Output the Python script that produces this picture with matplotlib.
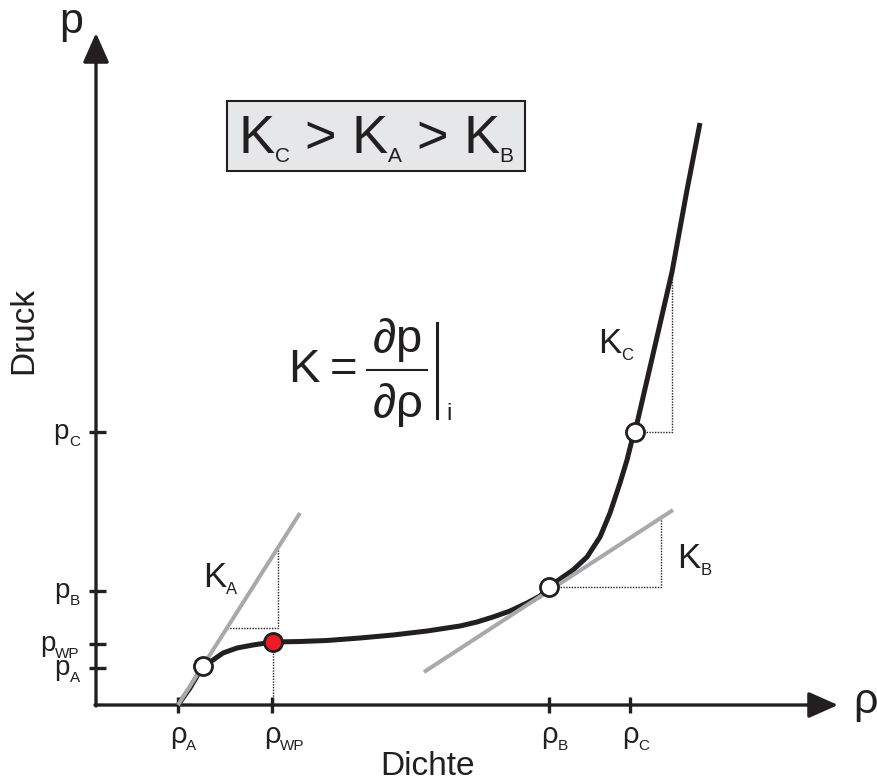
import matplotlib
matplotlib.use('Agg')
import matplotlib.pyplot as plt
from matplotlib.patches import Rectangle
from matplotlib.textpath import TextToPath
from matplotlib.font_manager import FontProperties

FONT = 'Liberation Sans'
INK = '#231f20'
GREY = '#a7a9ac'

plt.rcParams['font.family'] = FONT
plt.rcParams['mathtext.fontset'] = 'custom'
plt.rcParams['mathtext.rm'] = FONT
plt.rcParams['mathtext.it'] = FONT + ':italic'
plt.rcParams['mathtext.sf'] = FONT

# marked densities / pressures on the axes (arbitrary units)
rho_ticks = [0.82, 1.76, 4.53, 5.34]
rho_subs = ['A', 'WP', 'B', 'C']
p_ticks = [0.37, 0.61, 1.14, 2.73]
p_subs = ['A', 'WP', 'B', 'C']

# equation of state p(rho)
curve_rho = [0.82, 0.94, 1.07, 1.17, 1.27, 1.41, 1.57, 1.77, 2.04, 2.31, 2.64,
             2.97, 3.31, 3.64, 3.81, 3.97, 4.14, 4.31, 4.44, 4.53, 4.64, 4.77,
             4.91, 5.04, 5.14, 5.24, 5.31, 5.36, 5.39, 5.58, 5.76, 5.91, 6.04]
curve_p = [0.00, 0.17, 0.39, 0.45, 0.52, 0.57, 0.60, 0.63, 0.635, 0.645, 0.67,
           0.70, 0.74, 0.79, 0.83, 0.88, 0.94, 1.02, 1.09, 1.18, 1.26, 1.35,
           1.48, 1.68, 1.92, 2.22, 2.45, 2.65, 2.73, 3.55, 4.33, 5.15, 5.82]

# states A, B, C and the inflection point WP
state_rho = [1.07, 4.53, 5.39]
state_p = [0.39, 1.18, 2.73]
wp_rho = 1.77
wp_p = 0.63

# tangents at A and B
tanA_rho = [0.82, 2.04]
tanA_p = [0.00, 1.92]
tanB_rho = [3.28, 5.77]
tanB_p = [0.33, 1.95]

# slope triangles
triA_rho = [1.31, 1.82, 1.82]
triA_p = [0.77, 0.77, 1.57]
triB_rho = [4.53, 5.65, 5.65]
triB_p = [1.18, 1.18, 1.86]
triC_rho = [5.39, 5.76, 5.76]
triC_p = [2.73, 2.73, 4.33]

t2p = TextToPath()


def text_width(s, size):
    w, h, d = t2p.get_text_width_height_descent(
        s, FontProperties(family=FONT, size=size), ismath=False)
    return w


def runs(ax, x, y, parts, align='left', dy=0):
    # parts: (text, fontsize, drop below baseline in pt)
    widths = [text_width(s, sz) for s, sz, _ in parts]
    total = sum(widths)
    if align == 'left':
        x0 = 0
    elif align == 'right':
        x0 = -total
    elif align == 'first':
        x0 = -widths[0] / 2
    else:
        x0 = -total / 2
    for (s, sz, drop), w in zip(parts, widths):
        ax.annotate(s, (x, y), xytext=(x0, dy - drop), textcoords='offset points',
                    ha='left', va='baseline', fontsize=sz, color=INK)
        x0 += w


fig = plt.figure(figsize=(8.78, 7.82), dpi=100)
ax = fig.add_axes([0, 0, 1, 1])
ax.set_xlim(-0.96, 7.82)
ax.set_ylim(-0.77, 7.05)
ax.axis('off')

# axes with arrow heads
arrow = dict(arrowstyle='-|>,head_length=0.9,head_width=0.4', mutation_scale=20,
             lw=2.4, color=INK, shrinkA=0, shrinkB=0)
ax.annotate('', xy=(7.42, 0), xytext=(-0.01, 0), arrowprops=arrow)
ax.annotate('', xy=(0, 6.72), xytext=(0, -0.01), arrowprops=arrow)
ax.vlines(rho_ticks, -0.08, 0.08, color=INK, lw=2.4)
ax.hlines(p_ticks, -0.07, 0.10, color=INK, lw=2.4)

for r, s in zip(rho_ticks, rho_subs):
    runs(ax, r, -0.38, [('ρ', 21, 0), (s, 11, 5)], align='first')
for p, s in zip(p_ticks, p_subs):
    runs(ax, -0.16, p, [('p', 20, 0), (s, 11, 5)], align='right', dy=-5)

ax.text(-0.25, 6.72, 'p', fontsize=31, color=INK, ha='center', va='baseline')
ax.text(7.70, -0.08, 'ρ', fontsize=31, color=INK, ha='center', va='baseline')
ax.text(3.32, -0.70, 'Dichte', fontsize=24, color=INK, ha='center', va='baseline')
ax.text(-0.72, 3.75, 'Druck', fontsize=24, color=INK, ha='center', va='center',
        rotation=90)

# slope triangles and WP projection
dots = dict(color=INK, lw=1.0, ls=(0, (1, 1)), zorder=1)
ax.plot(triA_rho, triA_p, **dots)
ax.plot(triB_rho, triB_p, **dots)
ax.plot(triC_rho, triC_p, **dots)
ax.plot([wp_rho, wp_rho], [wp_p, 0], **dots)

ax.plot(curve_rho, curve_p, color=INK, lw=3.6, solid_capstyle='butt',
        solid_joinstyle='round', zorder=2)
ax.plot(tanA_rho, tanA_p, color=GREY, lw=2.9, solid_capstyle='butt', zorder=3)
ax.plot(tanB_rho, tanB_p, color=GREY, lw=2.9, solid_capstyle='butt', zorder=3)

ax.plot(state_rho, state_p, 'o', ms=13, mfc='white', mec=INK, mew=2, zorder=4)
ax.plot([wp_rho], [wp_p], 'o', ms=13, mfc='#ed1c24', mec=INK, mew=2, zorder=4)

runs(ax, 1.07, 1.18, [('K', 25, 0), ('A', 12, 5)])
runs(ax, 5.02, 3.52, [('K', 25, 0), ('C', 12, 5)])
runs(ax, 5.81, 1.37, [('K', 25, 0), ('B', 12, 5)])

# ordering of the moduli
ax.add_patch(Rectangle((1.31, 5.34), 2.98, 0.70, facecolor='#e6e7e8',
                       edgecolor=INK, lw=1.5, zorder=1))
runs(ax, 2.80, 5.52, [('K', 39, 0), ('C', 15, 6.5), (' > ', 39, 0),
                      ('K', 39, 0), ('A', 15, 6.5), (' > ', 39, 0),
                      ('K', 39, 0), ('B', 15, 6.5)], align='center')

# definition K = dp/drho |_i
ax.text(1.92, 3.23, 'K', fontsize=34, color=INK, ha='left', va='baseline')
ax.text(2.48, 3.23, '=', fontsize=34, color=INK, ha='center', va='baseline')
ax.text(3.01, 3.53, r'$\partial\mathregular{p}$', fontsize=34, color=INK,
        ha='center', va='baseline')
ax.text(3.01, 2.88, r'$\partial\mathregular{\rho}$', fontsize=34, color=INK,
        ha='center', va='baseline')
ax.plot([2.71, 3.31], [3.35, 3.35], color=INK, lw=1.5)
ax.plot([3.41, 3.41], [2.87, 3.82], color=INK, lw=2.2)
ax.text(3.50, 2.85, 'i', fontsize=17, color=INK, ha='left', va='baseline')

fig.savefig('out.png', dpi=100)
